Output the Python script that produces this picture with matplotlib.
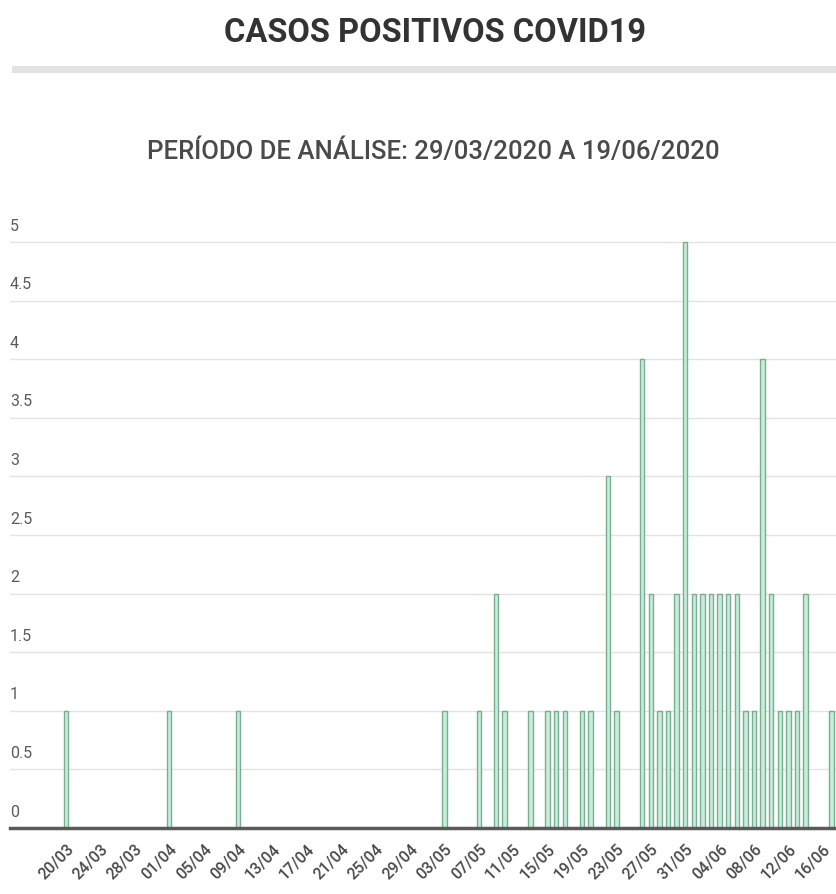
import pandas as pd
import matplotlib
matplotlib.use("Agg")
from matplotlib import pyplot as plt
from matplotlib.patches import Rectangle
import matplotlib.dates as mdates

plt.rcParams['font.family'] = ['Roboto', 'DejaVu Sans']

# daily positive cases (days without cases are left out)
dias = ["2020-03-20", "2020-04-01", "2020-04-09", "2020-05-03", "2020-05-07",
        "2020-05-09", "2020-05-10", "2020-05-13", "2020-05-15", "2020-05-16",
        "2020-05-17", "2020-05-19", "2020-05-20", "2020-05-22", "2020-05-23",
        "2020-05-26", "2020-05-27", "2020-05-28", "2020-05-29", "2020-05-30",
        "2020-05-31", "2020-06-01", "2020-06-02", "2020-06-03", "2020-06-04",
        "2020-06-05", "2020-06-06", "2020-06-07", "2020-06-08", "2020-06-09",
        "2020-06-10", "2020-06-11", "2020-06-12", "2020-06-13", "2020-06-14",
        "2020-06-17"]
casos = [1, 1, 1, 1, 1,
         2, 1, 1, 1, 1,
         1, 1, 1, 3, 1,
         4, 2, 1, 1, 2,
         5, 2, 2, 2, 2,
         2, 2, 1, 1, 4,
         2, 1, 1, 1, 2,
         1]
ticks = pd.date_range("2020-03-20", "2020-06-16", freq="4D")
yticks = [0, 0.5, 1, 1.5, 2, 2.5, 3, 3.5, 4, 4.5, 5]

dias = pd.to_datetime(dias)

W, H = 836, 895
fig = plt.figure(figsize=(W / 100, H / 100), dpi=100)

fig.text(435 / W, 1 - 33 / H, "CASOS POSITIVOS COVID19", ha="center", va="center",
         fontsize=23.5, fontweight="bold", color="#333333")
fig.add_artist(Rectangle((12 / W, 1 - 74 / H), 1 - 12 / W, 7 / H,
                         transform=fig.transFigure, color="#e2e2e2", lw=0))
fig.text(433 / W, 1 - 152 / H, "PERÍODO DE ANÁLISE: 29/03/2020 A 19/06/2020",
         ha="center", va="center", fontsize=18.5, fontweight="medium", color="#4a4a4a")

# axes: 0 at y=829px, 5 at y=243px, 20/03 at x=66px
unit = (829 - 243) / 5
top = 829 - 5.2 * unit
ax = fig.add_axes([10 / W, 1 - 829 / H, 1 - 10 / W, (829 - top) / H])

ax.bar(dias, casos, width=0.5, facecolor="#c8eed9", edgecolor="#7aae92", lw=1.0, zorder=3)

x0 = mdates.date2num(pd.Timestamp("2020-03-20"))
ax.set_xlim(x0 - 56 / 8.6, x0 + (836 - 66) / 8.6)
ax.set_ylim(0, 5.2)

for s in ["top", "right", "left"]:
    ax.spines[s].set_visible(False)
ax.spines["bottom"].set_color("#5a5a5a")
ax.spines["bottom"].set_linewidth(2.5)
ax.spines["bottom"].set_zorder(4)

ax.set_yticks(yticks)
ax.set_yticklabels([])
ax.tick_params(axis="y", length=0)
ax.grid(axis="y", color="#e3e3e3", lw=1, zorder=0)
for v in yticks:
    lab = "%g" % v
    ax.text(0, v + 0.08, lab, transform=ax.get_yaxis_transform(), ha="left", va="bottom",
            fontsize=11.5, color="#5a5a5a")

ax.set_xticks(ticks)
ax.set_xticklabels([t.strftime("%d/%m") for t in ticks], rotation=45, ha="right",
                   rotation_mode="anchor", fontsize=11.5, fontweight="medium", color="#4a4a4a")
ax.tick_params(axis="x", length=0, pad=9)

fig.savefig("out.png", dpi=100, facecolor="white")
